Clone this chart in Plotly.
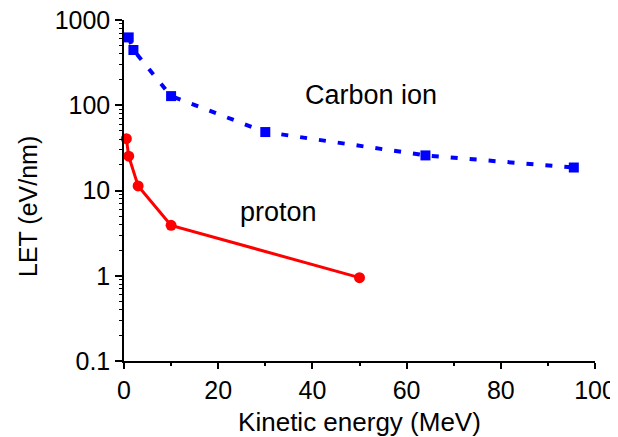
import plotly.graph_objects as go

# Data
carbon_energy = [1, 2, 10, 30, 64, 95.5]
carbon_let = [625, 445, 128, 48.5, 25.8, 18.6]

proton_energy = [0.5, 1, 3, 10, 50]
proton_let = [40.5, 25.3, 11.3, 3.9, 0.95]

y_tick_vals = [0.1, 1, 10, 100, 1000]
y_tick_text = ["0.1", "1", "10", "100", "1000"]
x_tick_vals = [0, 20, 40, 60, 80, 100]
x_minor_vals = [10, 30, 50, 70, 90]
y_minor_vals = [m * d for d in (0.1, 1, 10, 100) for m in range(2, 10)]

FONT = "Liberation Sans, Arial, sans-serif"

fig = go.Figure()
fig.add_trace(go.Scatter(
    x=carbon_energy, y=carbon_let, mode="lines+markers", name="Carbon ion",
    line=dict(color="#0000FF", width=4, dash="7px,12px"),
    marker=dict(symbol="square", size=10, color="#0000FF"),
    cliponaxis=False,
))
fig.add_trace(go.Scatter(
    x=proton_energy, y=proton_let, mode="lines+markers", name="proton",
    line=dict(color="#FF0000", width=3),
    marker=dict(symbol="circle", size=11, color="#FF0000"),
    cliponaxis=False,
))

# The page body has an 8px default margin, so the figure is drawn 8px in.
OFF = 8
W, H = 618 - OFF, 437 - OFF
L, R, T, B = 124 - OFF, 23, 20 - OFF, 76

fig.update_layout(
    width=W, height=H,
    margin=dict(l=L, r=R, t=T, b=B, pad=0, autoexpand=False),
    paper_bgcolor="white", plot_bgcolor="white",
    showlegend=False,
    font=dict(family=FONT, size=25, color="black"),
    xaxis=dict(
        range=[0, 100], tickmode="array", tickvals=x_tick_vals,
        automargin=False, ticklabeloverflow="allow",
        showgrid=False, zeroline=False,
        showline=True, linecolor="black", linewidth=1.5,
        ticks="outside", ticklen=6, tickwidth=1.5, tickcolor="black",
        tickfont=dict(family=FONT, size=25),
        minor=dict(ticks="outside", ticklen=3, tickwidth=1.5, tickcolor="black",
                   tickmode="array", tickvals=x_minor_vals),
        title=dict(text="Kinetic energy (MeV)", font=dict(family=FONT, size=26), standoff=12),
    ),
    yaxis=dict(
        type="log", range=[-1, 3], tickmode="array",
        tickvals=y_tick_vals, ticktext=y_tick_text,
        automargin=False, ticklabeloverflow="allow",
        showgrid=False, zeroline=False,
        showline=True, linecolor="black", linewidth=1.5,
        ticks="outside", ticklen=7, tickwidth=1.5, tickcolor="black",
        tickfont=dict(family=FONT, size=25),
        minor=dict(ticks="outside", ticklen=3, tickwidth=1, tickcolor="black",
                   tickmode="array", tickvals=y_minor_vals),
    ),
)

pw = W - L - R
ph = H - T - B

def px_to_paper(px, py):
    # px, py are page pixel positions
    return (px - OFF - L) / pw, 1 - (py - OFF - T) / ph

ytx, yty = px_to_paper(28, 207)
fig.add_annotation(text="LET (eV/nm)", x=ytx, y=yty, xref="paper", yref="paper",
                   textangle=-90, showarrow=False, font=dict(family=FONT, size=25),
                   xanchor="center", yanchor="middle")

cx, cy = px_to_paper(371, 95)
fig.add_annotation(text="Carbon ion", x=cx, y=cy, xref="paper", yref="paper",
                   showarrow=False, font=dict(family=FONT, size=27),
                   xanchor="center", yanchor="middle")

prx, pry = px_to_paper(278, 212)
fig.add_annotation(text="proton", x=prx, y=pry, xref="paper", yref="paper",
                   showarrow=False, font=dict(family=FONT, size=27),
                   xanchor="center", yanchor="middle")

fig.write_html("out.html")
